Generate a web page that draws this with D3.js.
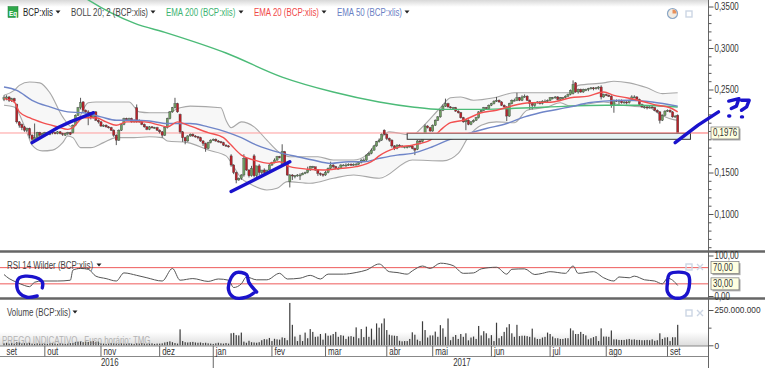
<!DOCTYPE html>
<html>
<head>
<meta charset="utf-8">
<script src="https://cdn.jsdelivr.net/npm/d3@7"></script>
<style>
  html, body { margin: 0; padding: 0; background: #fff; overflow: hidden; }
  svg { display: block; }
  text { font-family: "Liberation Sans", sans-serif; font-size: 10px; }
</style>
</head>
<body>
<div id="chart"></div>
<script>
//daily candles, one line per month
const closes = [
  .240,.241,.237,.239,.236,.211,.207,.204,.201,.203,.195,.190,.192,.198,.195,.197,
  .198,.196,.199,.198,.197,.199,.197,.196,.197,.198,.196,.207,.219,.228,.234,.225,.223,.222,.216,.223,.213,.211,
  .206,.207,.205,.204,.201,.195,.189,.201,.208,.215,.213,.215,.211,.213,.211,.211,.208,.205,.202,.205,.204,.204,.201,
  .199,.195,.204,.215,.223,.228,.233,.223,.199,.192,.188,.194,.196,.194,.193,.192,.188,.185,.179,.186,.189,
  .190,.188,.187,.186,.183,.182,.181,.159,.150,.141,.143,.147,.167,.153,.146,.155,.146,.158,.150,.153,.150,.153,.159,
  .162,.165,.169,.168,.175,.162,.147,.147,.146,.146,.147,.147,.149,.150,.153,.157,.157,.153,.149,.148,.147,
  .150,.155,.159,.157,.155,.155,.159,.159,.159,.160,.159,.160,.160,.162,.165,.165,.171,.173,.177,.182,.187,.189,.196,.196,
  .191,.189,.182,.179,.183,.182,.181,.181,.181,.182,.179,.177,.188,.187,.196,.206,.204,.200,
  .207,.213,.217,.225,.230,.233,.229,.228,.228,.224,.222,.216,.211,.213,.208,.211,.213,.216,.223,.225,.228,.227,.231,
  .233,.236,.237,.235,.231,.229,.218,.233,.237,.237,.240,.237,.241,.242,.237,.233,.231,.234,.235,.233,.236,.236,.237,
  .240,.240,.241,.238,.240,.240,.242,.244,.249,.256,.247,.250,.247,.250,.250,.251,.252,.251,.252,.253,.241,.244,
  .243,.242,.231,.237,.236,.237,.234,.235,.234,.237,.241,.241,.238,.232,.229,.229,.228,.229,.228,.225,.223,.213,.219,.224,
  .225,.223,.217,.218,.1976
];
const opens = [
  .238,.239,.241,.237,.239,.232,.211,.208,.205,.201,.203,.195,.189,.192,.198,.195,
  .196,.198,.196,.199,.198,.197,.199,.197,.195,.197,.198,.198,.207,.219,.228,.235,.225,.223,.222,.216,.223,.213,
  .211,.206,.207,.205,.204,.201,.195,.189,.201,.208,.215,.213,.215,.211,.228,.213,.211,.208,.205,.202,.205,.204,.204,
  .201,.199,.195,.204,.215,.223,.228,.233,.220,.199,.192,.188,.194,.196,.194,.193,.192,.188,.185,.179,.186,
  .189,.190,.188,.187,.186,.183,.182,.170,.159,.150,.141,.143,.147,.167,.153,.146,.170,.146,.158,.150,.153,.150,.153,
  .159,.162,.165,.169,.160,.175,.162,.139,.147,.146,.146,.147,.147,.149,.150,.153,.157,.157,.153,.149,.148,
  .147,.150,.155,.159,.157,.155,.155,.159,.159,.159,.160,.159,.160,.160,.162,.165,.165,.171,.173,.177,.182,.187,.189,.201,
  .196,.191,.189,.182,.179,.183,.182,.181,.181,.181,.182,.179,.178,.188,.187,.196,.206,.204,
  .200,.207,.213,.217,.225,.230,.233,.229,.228,.228,.224,.222,.216,.211,.213,.208,.211,.213,.216,.223,.225,.228,.227,
  .231,.233,.236,.237,.235,.231,.229,.218,.233,.237,.237,.240,.237,.241,.242,.237,.233,.231,.234,.235,.233,.236,.236,
  .237,.240,.240,.241,.238,.240,.240,.242,.244,.245,.258,.247,.250,.247,.250,.250,.251,.252,.251,.252,.253,.241,
  .244,.243,.242,.231,.237,.236,.237,.234,.235,.234,.237,.241,.241,.238,.232,.229,.229,.228,.229,.228,.225,.223,.213,.219,
  .224,.225,.223,.217,.219
];
const highs = [
  .243,.243,.242,.240,.240,.233,.212,.209,.206,.204,.204,.196,.209,.199,.199,.198,
  .199,.199,.200,.201,.199,.200,.200,.198,.198,.199,.199,.208,.220,.229,.240,.236,.226,.225,.223,.224,.224,.214,
  .212,.208,.208,.206,.205,.202,.196,.202,.209,.216,.216,.216,.216,.214,.232,.214,.212,.209,.206,.206,.206,.205,.205,
  .202,.200,.205,.216,.224,.229,.240,.234,.221,.200,.193,.195,.197,.197,.195,.194,.193,.189,.186,.187,.190,
  .191,.191,.189,.188,.187,.184,.183,.172,.160,.151,.144,.148,.172,.168,.154,.158,.172,.148,.160,.152,.155,.153,.160,
  .163,.167,.170,.170,.184,.176,.163,.148,.148,.147,.148,.149,.150,.151,.157,.158,.158,.154,.154,.150,.149,
  .152,.156,.163,.160,.158,.157,.160,.160,.161,.161,.161,.161,.162,.163,.166,.167,.172,.175,.179,.183,.188,.191,.197,.202,
  .197,.192,.190,.183,.184,.184,.183,.182,.182,.183,.183,.180,.189,.189,.197,.208,.207,.205,
  .208,.214,.218,.226,.232,.239,.234,.230,.229,.229,.225,.223,.217,.214,.214,.212,.214,.217,.224,.226,.229,.229,.232,
  .234,.237,.241,.238,.236,.232,.230,.234,.238,.239,.246,.241,.243,.244,.243,.238,.234,.235,.236,.236,.237,.238,.238,
  .241,.241,.242,.242,.241,.241,.243,.245,.250,.261,.259,.251,.251,.251,.251,.252,.253,.253,.253,.254,.255,.245,
  .245,.244,.243,.238,.238,.238,.238,.236,.236,.238,.243,.243,.242,.239,.233,.230,.230,.230,.230,.229,.226,.224,.220,.225,
  .226,.226,.224,.219,.220
];
const lows = [
  .236,.237,.235,.235,.234,.209,.204,.201,.199,.199,.191,.184,.187,.190,.193,.193,
  .194,.195,.195,.196,.196,.196,.196,.194,.194,.195,.195,.197,.206,.218,.226,.223,.221,.207,.214,.215,.212,.209,
  .205,.205,.204,.203,.200,.193,.183,.188,.200,.207,.212,.212,.210,.210,.210,.210,.207,.204,.201,.201,.203,.203,.200,
  .197,.192,.194,.203,.214,.222,.227,.222,.197,.187,.184,.187,.193,.193,.192,.190,.187,.182,.175,.178,.185,
  .188,.187,.186,.185,.182,.181,.180,.157,.148,.137,.140,.141,.145,.152,.144,.145,.144,.144,.147,.148,.149,.149,.152,
  .158,.161,.164,.167,.159,.160,.146,.132,.141,.143,.145,.141,.147,.148,.149,.152,.155,.152,.146,.146,.145,
  .146,.149,.154,.155,.154,.154,.154,.158,.157,.158,.158,.158,.159,.159,.161,.164,.164,.170,.172,.176,.181,.186,.188,.195,
  .189,.187,.180,.177,.178,.181,.180,.179,.179,.180,.178,.171,.177,.184,.186,.195,.203,.199,
  .199,.206,.212,.216,.224,.229,.228,.227,.227,.223,.221,.215,.210,.201,.207,.207,.210,.212,.215,.222,.224,.226,.226,
  .230,.232,.235,.234,.230,.228,.212,.217,.232,.236,.236,.236,.236,.240,.236,.226,.226,.229,.233,.232,.232,.235,.235,
  .236,.238,.239,.237,.237,.238,.239,.241,.243,.244,.246,.245,.246,.246,.248,.248,.250,.249,.250,.250,.238,.240,
  .242,.241,.228,.222,.235,.232,.233,.233,.232,.233,.236,.240,.237,.231,.228,.227,.226,.227,.227,.224,.222,.209,.212,.218,
  .223,.222,.216,.216,.1968
];
//volume in millions of shares
const volumes = [
  14,18,12,16,10,22,20,12,15,14,18,12,10,14,12,10,
  12,10,14,16,12,10,14,12,10,12,15,16,24,26,28,22,26,24,28,30,22,26,
  14,12,10,12,16,14,12,10,14,12,10,14,12,10,14,12,16,12,10,12,14,10,12,
  12,14,20,24,28,22,16,12,113,30,22,20,22,24,20,18,20,16,18,14,12,
  10,14,18,14,12,16,12,85,88,72,70,90,26,18,32,22,20,18,22,36,44,42,52,
  30,46,42,40,56,52,36,300,145,62,30,74,30,90,50,115,95,60,62,80,40,
  85,68,70,80,95,60,72,68,45,62,65,60,127,50,115,58,132,60,118,40,155,125,155,190,
  108,75,70,68,66,32,28,30,30,45,92,75,40,30,170,108,55,70,
  70,97,60,143,120,60,190,36,60,73,45,80,60,85,35,55,62,45,137,70,100,85,50,
  72,30,160,50,65,95,127,150,85,60,145,65,68,68,65,60,118,55,45,45,55,60,90,
  80,62,50,50,45,45,50,50,120,105,80,80,95,80,70,42,50,58,65,30,120,62,
  62,60,105,42,42,38,38,38,42,45,40,42,38,38,36,36,38,36,42,32,36,85,45,55,
  57,30,57,57,145
];

//indicator curves as [trading day, value] read at their turning points
const ema200 = [[30,.364],[33,.358],[51,.330],[64,.318],[87,.294],[109,.265],[129,.247],[147,.235],[160,.229],[171,.226],[187,.226],[213,.229],[236,.231],[249,.231],[264,.229]];
const ema20 = [[0,.239],[4,.235],[6,.223],[10,.216],[15,.210],[21,.205],[25,.202],[27,.204],[31,.216],[36,.216],[40,.211],[44,.207],[48,.211],[55,.211],[61,.207],[64,.205],[68,.211],[72,.207],[80,.198],[86,.192],[89,.183],[93,.171],[98,.165],[104,.161],[108,.163],[112,.157],[119,.154],[125,.153],[132,.155],[138,.157],[145,.165],[147,.170],[154,.180],[160,.183],[167,.189],[171,.201],[175,.210],[180,.213],[187,.222],[193,.225],[200,.231],[206,.234],[215,.235],[222,.240],[229,.242],[235,.247],[239,.243],[244,.240],[251,.235],[256,.231],[261,.228],[264,.223]];
const ema50 = [[0,.253],[5,.249],[11,.237],[18,.229],[25,.223],[31,.222],[38,.217],[44,.213],[51,.213],[57,.212],[64,.209],[73,.209],[80,.205],[87,.199],[93,.192],[99,.183],[108,.174],[115,.169],[121,.165],[128,.161],[135,.163],[141,.163],[147,.167],[154,.171],[160,.173],[167,.180],[174,.189],[182,.197],[189,.203],[197,.209],[204,.217],[210,.222],[222,.229],[229,.234],[235,.236],[245,.237],[254,.235],[264,.230]];
const bollUpper = [[0,.243],[4,.249],[6,.255],[10,.259],[14,.258],[18,.246],[23,.217],[27,.204],[29,.213],[33,.234],[36,.235],[44,.235],[49,.235],[53,.223],[57,.222],[64,.222],[69,.228],[73,.230],[85,.228],[87,.213],[89,.204],[93,.211],[98,.205],[103,.189],[108,.174],[112,.169],[123,.169],[129,.165],[137,.165],[142,.171],[147,.189],[151,.199],[160,.195],[164,.205],[171,.228],[175,.240],[179,.241],[184,.237],[192,.240],[200,.246],[215,.246],[222,.246],[225,.255],[235,.258],[239,.260],[245,.258],[252,.252],[258,.245],[264,.246]];
const bollLower = [[0,.231],[4,.229],[9,.198],[11,.183],[15,.176],[19,.177],[23,.186],[25,.194],[27,.192],[30,.180],[34,.180],[39,.186],[44,.192],[51,.192],[57,.193],[62,.192],[64,.188],[72,.186],[80,.177],[87,.170],[90,.157],[93,.143],[96,.137],[103,.129],[107,.131],[111,.139],[120,.137],[129,.143],[137,.147],[147,.143],[160,.165],[172,.164],[178,.173],[182,.193],[187,.207],[193,.211],[200,.210],[205,.225],[213,.229],[218,.234],[222,.230],[235,.235],[242,.231],[253,.228],[256,.222],[262,.214],[264,.213]];
const rsi = [[0,53],[2,43],[5,34],[8,26],[10,23],[12,34],[15,37],[21,37],[26,39],[27,64],[30,68],[33,66],[36,49],[40,43],[44,37],[47,57],[52,51],[56,45],[62,37],[66,68],[69,39],[74,43],[80,36],[84,42],[88,39],[90,21],[93,30],[95,47],[99,40],[103,40],[108,56],[111,42],[116,44],[120,51],[124,42],[127,54],[133,54],[138,58],[142,64],[147,79],[151,60],[154,58],[158,54],[160,62],[164,74],[167,68],[171,81],[176,75],[180,56],[184,57],[187,67],[193,71],[197,54],[199,66],[204,67],[208,53],[211,56],[214,60],[220,56],[223,74],[225,56],[231,60],[235,45],[239,37],[241,47],[245,45],[247,49],[251,40],[255,37],[258,30],[260,44],[262,39],[264,26]];

//month and year labels
const monthStarts = [0,16,38,61,82,105,126,150,168,191,214,236,260];
const monthNames = ["set","out","nov","dez","jan","fev","mar","abr","mai","jun","jul","ago","set"];
const years = [{day: 38, label: "2016"}, {day: 176, label: "2017"}];

const priceTicks = [.35,.30,.25,.15,.10];
const priceMinorTicks = [.34,.33,.32,.31,.29,.28,.27,.26,.24,.23,.22,.21,.20,.19,.18,.17,.16,.14,.13,.12,.11,.09,.08,.07,.06,.05,.04];
const rsiTicks = [100,0];
const rsiLevels = [70,30];
const lastPrice = .1976;
const supportZone = {from: 158, to: 269, top: .1972, bottom: .190};

//hand drawn blue marks, in the same day / value units
const penLines = [
  [[11,.186],[21,.204],[26,.211],[35,.222]],
  [[89,.127],[98,.141],[112,.163]],
  [[263,.186],[272,.207],[280,.223]],
  [[284,.236],[288,.239],[287,.230],[285,.227]],
  [[289,.237],[292,.237],[291,.229],[289,.225]]
];
const penDots = [[284,.218],[289,.217]];
const penCircles = [
  [[15,20],[15,35],[11,48],[6,45],[5,28],[6,8],[9,-3],[13,0]],
  [[99,10],[96,33],[95,53],[91,58],[89,45],[88,15],[90,-3],[95,-3],[98,8]],
  [[260,33],[260,10],[262,-3],[266,-3],[268,10],[268,53],[261,55],[260,35]]
];

const legendItems = [
  {x: 23, label: "BCP:xlis", color: "#222", arrow: 58},
  {x: 71, label: "BOLL 20; 2 (BCP:xlis)", color: "#444", arrow: 153},
  {x: 166, label: "EMA 200 (BCP:xlis)", color: "#3cb371", arrow: 241},
  {x: 254, label: "EMA 20 (BCP:xlis)", color: "#f04848", arrow: 324},
  {x: 337, label: "EMA 50 (BCP:xlis)", color: "#6a80c4", arrow: 407}
];

createChart();

function createChart() {

    const width = 765;
    const height = 368;
    const axisX = 708;

    const svg = d3.select("#chart")
        .append("svg")
        .attr("width", width)
        .attr("height", height);

    const x = d3.scaleLinear().domain([0, 264]).range([4, 677.7]);
    const y = d3.scaleLinear().domain([.35, .10]).range([6.5, 214]);
    const rsiY = d3.scaleLinear().domain([100, 0]).range([255.5, 296]);
    const volY = d3.scaleLinear().domain([250, 0]).range([310, 345.3]);

    const defs = svg.append("defs");

    //top shade of the window and bottom shade of the volume panel
    const topShade = defs.append("linearGradient").attr("id", "topShade").attr("x2", 0).attr("y2", 1);
    topShade.append("stop").attr("offset", 0).attr("stop-color", "#d8d8d8");
    topShade.append("stop").attr("offset", 1).attr("stop-color", "#fff");

    const volShade = defs.append("linearGradient").attr("id", "volShade").attr("x2", 0).attr("y2", 1);
    volShade.append("stop").attr("offset", 0).attr("stop-color", "#fff");
    volShade.append("stop").attr("offset", 1).attr("stop-color", "#dcdcdc");

    defs.append("clipPath").attr("id", "priceClip").append("rect")
        .attr("width", axisX).attr("height", 251);

    svg.append("rect").attr("width", axisX).attr("height", 7).attr("fill", "url(#topShade)");
    svg.append("rect").attr("y", 332).attr("width", axisX).attr("height", 14).attr("fill", "url(#volShade)");

    const price = svg.append("g").attr("clip-path", "url(#priceClip)");

    const line = d3.line()
        .x(function(d) { return x(d[0]); })
        .y(function(d) { return y(d[1]); });

    const smooth = line.curve(d3.curveMonotoneX);

    //bollinger band, upper edge then lower edge backwards
    const bandOutline = bollUpper.concat(bollLower.slice().reverse());
    price.append("path")
        .attr("d", d3.line().x(function(d) { return x(d[0]); }).y(function(d) { return y(d[1]); })(bandOutline))
        .attr("fill", "#f7f7f7");

    [bollUpper, bollLower].forEach(function(edge) {
        price.append("path")
            .attr("d", smooth(edge))
            .attr("fill", "none")
            .attr("stroke", "#a8a8a8")
            .attr("stroke-width", 1.1);
    });

    //last price line
    price.append("line")
        .attr("x1", 0).attr("x2", axisX)
        .attr("y1", y(lastPrice)).attr("y2", y(lastPrice))
        .attr("stroke", "#ff9c9c");

    //candles
    const candles = price.selectAll("g.candle")
        .data(closes.map(function(c, i) { return {i: i, o: opens[i], h: highs[i], l: lows[i], c: c}; }))
        .enter().append("g").attr("class", "candle");

    candles.append("line")
        .attr("x1", function(d) { return x(d.i); })
        .attr("x2", function(d) { return x(d.i); })
        .attr("y1", function(d) { return y(d.h); })
        .attr("y2", function(d) { return y(d.l); })
        .attr("stroke", "#444")
        .attr("stroke-width", 0.9);

    candles.append("rect")
        .attr("x", function(d) { return x(d.i) - 1.1; })
        .attr("y", function(d) { return y(Math.max(d.o, d.c)); })
        .attr("width", 2.2)
        .attr("height", function(d) { return Math.max(1, Math.abs(y(d.o) - y(d.c))); })
        .attr("fill", function(d) { return d.c >= d.o ? "#6f9e62" : "#b8222a"; })
        .attr("stroke", "#3a3a3a")
        .attr("stroke-width", 0.35);

    //moving averages
    price.append("path").attr("d", smooth(ema200)).attr("fill", "none").attr("stroke", "#4cbb78").attr("stroke-width", 1.4);
    price.append("path").attr("d", smooth(ema50)).attr("fill", "none").attr("stroke", "#6f85c8").attr("stroke-width", 1.4);
    price.append("path").attr("d", smooth(ema20)).attr("fill", "none").attr("stroke", "#f25050").attr("stroke-width", 1.4);

    //support box
    svg.append("rect")
        .attr("x", x(supportZone.from))
        .attr("y", y(supportZone.top))
        .attr("width", x(supportZone.to) - x(supportZone.from))
        .attr("height", y(supportZone.bottom) - y(supportZone.top))
        .attr("fill", "#e8f4f4")
        .attr("stroke", "#333")
        .attr("stroke-width", 1);

    svg.append("line")
        .attr("x1", x(supportZone.from)).attr("x2", axisX)
        .attr("y1", y(lastPrice)).attr("y2", y(lastPrice))
        .attr("stroke", "#ff9c9c");

    //rsi panel
    rsiLevels.forEach(function(level) {
        svg.append("line")
            .attr("x1", 0).attr("x2", axisX)
            .attr("y1", rsiY(level)).attr("y2", rsiY(level))
            .attr("stroke", "#ee5a5a");
    });

    svg.append("path")
        .attr("d", d3.line().curve(d3.curveMonotoneX).x(function(d) { return x(d[0]); }).y(function(d) { return rsiY(d[1]); })(rsi))
        .attr("fill", "none")
        .attr("stroke", "#555")
        .attr("stroke-width", 1);

    //volume bars
    svg.selectAll("rect.vol")
        .data(volumes)
        .enter().append("rect")
        .attr("class", "vol")
        .attr("x", function(d, i) { return x(i) - 0.6; })
        .attr("y", function(d) { return volY(d); })
        .attr("width", 1.2)
        .attr("height", function(d) { return volY(0) - volY(d); })
        .attr("fill", "#3c3c3c");

    svg.append("text")
        .attr("x", 2).attr("y", 344)
        .attr("fill", "#999")
        .attr("opacity", 0.7)
        .text("PREGO INDICATIVO - Fuso horário: TMG");

    //panel dividers
    [[251.5, 2.5, "#666", width], [298.5, 2.5, "#666", width], [346, 1, "#888", axisX], [356.5, 1, "#888", axisX]].forEach(function(s) {
        svg.append("line")
            .attr("x1", 0).attr("x2", s[3])
            .attr("y1", s[0]).attr("y2", s[0])
            .attr("stroke", s[2])
            .attr("stroke-width", s[1]);
    });

    //time axis
    svg.selectAll("line.month")
        .data(monthStarts.slice(1))
        .enter().append("line")
        .attr("class", "month")
        .attr("x1", function(d) { return x(d); })
        .attr("x2", function(d) { return x(d); })
        .attr("y1", 346)
        .attr("y2", function(d, i) { return monthNames[i + 1] === "jan" ? 368 : 356.5; })
        .attr("stroke", "#666");

    svg.selectAll("text.month")
        .data(monthStarts)
        .enter().append("text")
        .attr("class", "month")
        .attr("x", function(d) { return x(d) + 2.5; })
        .attr("y", 355)
        .attr("fill", "#333")
        .text(function(d, i) { return monthNames[i]; });

    svg.selectAll("text.year")
        .data(years)
        .enter().append("text")
        .attr("class", "year")
        .attr("x", function(d) { return x(d.day); })
        .attr("y", 366)
        .attr("fill", "#333")
        .text(function(d) { return d.label; });

    //right axes
    svg.append("line")
        .attr("x1", axisX + 0.5).attr("x2", axisX + 0.5)
        .attr("y1", 0).attr("y2", height)
        .attr("stroke", "#666");

    function commaFormat(digits) {
        return function(d) { return d3.format("." + digits + "f")(d).replace(".", ","); };
    }

    function styleAxis(g) {
        g.select(".domain").remove();
        g.selectAll("line").attr("stroke", "#555");
        g.selectAll("text").attr("fill", "#333").attr("x", 6);
    }

    svg.append("g")
        .attr("transform", "translate(" + (axisX + 0.5) + ",0)")
        .call(d3.axisRight(y).tickValues(priceTicks).tickSize(5).tickFormat(commaFormat(4)))
        .call(styleAxis);

    svg.append("g")
        .attr("transform", "translate(" + (axisX + 0.5) + ",0)")
        .call(d3.axisRight(y).tickValues(priceMinorTicks.filter(function(d) { return y(d) < 250; })).tickSize(3).tickFormat(""))
        .call(styleAxis);

    svg.append("g")
        .attr("transform", "translate(" + (axisX + 0.5) + ",0)")
        .call(d3.axisRight(rsiY).tickValues(rsiTicks).tickSize(5).tickFormat(commaFormat(2)))
        .call(styleAxis);

    svg.append("g")
        .attr("transform", "translate(" + (axisX + 0.5) + ",0)")
        .call(d3.axisRight(volY).tickValues([250, 0]).tickSize(5)
            .tickFormat(function(d) { return d === 0 ? "0" : "250.000.000"; }))
        .call(styleAxis)
        .selectAll("text")
        .style("font-size", "9px");

    svg.append("g")
        .attr("transform", "translate(" + (axisX + 0.5) + ",0)")
        .call(d3.axisRight(volY).tickValues([125]).tickSize(3).tickFormat(""))
        .call(styleAxis);

    //value tags beside the axis
    function valueTag(yPos, label) {
        const tag = svg.append("g").attr("transform", "translate(711," + yPos + ")");
        tag.append("rect").attr("x", 1.5).attr("y", -4.5).attr("width", 28).attr("height", 12).attr("fill", "#aaa");
        tag.append("rect").attr("y", -6).attr("width", 28).attr("height", 12)
            .attr("fill", "#ffffe1").attr("stroke", "#777").attr("stroke-width", 0.7);
        tag.append("text").attr("x", 2).attr("y", 3.5).attr("fill", "#333").text(label);
    }

    valueTag(y(lastPrice), commaFormat(4)(lastPrice));
    rsiLevels.forEach(function(level) {
        valueTag(rsiY(level), commaFormat(2)(level));
    });

    //legend row
    svg.append("rect").attr("x", 8).attr("y", 6.5).attr("width", 10).attr("height", 11)
        .attr("fill", "#2ea84a").attr("stroke", "#1d7a35").attr("stroke-width", 0.5);
    svg.append("text").attr("x", 9).attr("y", 15.5).attr("fill", "#fff")
        .style("font-size", "8px").style("font-weight", "bold").text("Eq");

    function arrow(px, py) {
        svg.append("path")
            .attr("d", d3.line()([[px - 2.5, py - 1.5], [px + 2.5, py - 1.5], [px, py + 1.5]]))
            .attr("fill", "#222");
    }

    legendItems.forEach(function(item) {
        svg.append("text")
            .attr("x", item.x).attr("y", 16)
            .attr("fill", item.color)
            .text(item.label);
        arrow(item.arrow, 12);
    });

    //small panel buttons
    function panelButton(px, py) {
        svg.append("rect").attr("x", px - 3).attr("y", py - 3).attr("width", 6).attr("height", 6)
            .attr("fill", "none").attr("stroke", "#ccd6e4").attr("stroke-width", 1.4);
    }

    panelButton(689, 14);
    panelButton(689, 267);
    panelButton(689, 313);

    svg.append("path")
        .attr("d", "M697 264l6 6M703 264l-6 6M697 310l6 6M703 310l-6 6")
        .attr("stroke", "#ccd6e4").attr("stroke-width", 1.4);

    svg.append("circle").attr("cx", 672.5).attr("cy", 13.5).attr("r", 5)
        .attr("fill", "#f3ece2").attr("stroke", "#8aa6c6").attr("stroke-width", 1.2);
    svg.append("path").attr("d", "M672.5 13.5V9.5A4 4 0 0 1 676.5 13.5Z").attr("fill", "#e8905a");

    //rsi and volume captions
    svg.append("text").attr("x", 7).attr("y", 269).attr("fill", "#444").text("RSI 14 Wilder (BCP:xlis)");
    arrow(99, 265);
    svg.append("text").attr("x", 7).attr("y", 316).attr("fill", "#444").text("Volume (BCP:xlis)");
    arrow(75, 312);

    //squeeze all labels to the narrow look of the original font
    svg.selectAll("text").each(function() {
        const len = this.getComputedTextLength();
        if (len > 0) {
            const squeeze = this.style.fontSize === "9px" ? 0.92 : 0.79;
            d3.select(this)
                .attr("textLength", len * squeeze)
                .attr("lengthAdjust", "spacingAndGlyphs");
        }
    });

    //blue pen scribbles over everything
    const pen = svg.append("g")
        .attr("fill", "none")
        .attr("stroke", "#1a12cc")
        .attr("stroke-width", 3.4)
        .attr("stroke-linecap", "round")
        .attr("stroke-linejoin", "round");

    penLines.forEach(function(stroke) {
        pen.append("path").attr("d", line.curve(d3.curveLinear)(stroke));
    });

    penDots.forEach(function(d) {
        pen.append("path")
            .attr("d", "M" + x(d[0]) + " " + y(d[1]) + "h1");
    });

    penCircles.forEach(function(stroke) {
        pen.append("path")
            .attr("d", d3.line().curve(d3.curveCatmullRom).x(function(d) { return x(d[0]); }).y(function(d) { return rsiY(d[1]); })(stroke));
    });
}
</script>
</body>
</html>
